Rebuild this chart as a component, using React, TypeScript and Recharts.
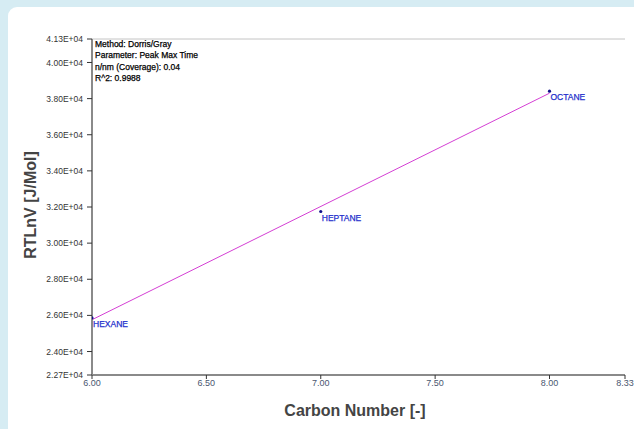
import React from 'react';
import {
  ComposedChart,
  Line,
  Scatter,
  XAxis,
  YAxis,
  ReferenceLine,
  Customized,
} from 'recharts';

// Colour palette
const COLORS = {
  page: '#d6ecf3',
  fit: '#d43fd4',
  point: '#10108a',
  pointLabel: '#2430cc',
  axis: '#8a8a8a',
  tick: '#333',
  xTick: '#4a5670',
  title: '#444',
};

// Measured compounds
const compounds = ['HEXANE', 'HEPTANE', 'OCTANE'];
const carbonNumbers = [6, 7, 8];
const rtlnv = [25860, 31750, 38410];

// Regression line end points
const fitX = [6, 8];
const fitY = [25760, 38300];

// Axes
const xTicks = [6, 6.5, 7, 7.5, 8, 8.33];
const yTicks = [22700, 24000, 26000, 28000, 30000, 32000, 34000, 36000, 38000, 40000, 41300];

const notes = [
  'Method: Dorris/Gray',
  'Parameter: Peak Max Time',
  'n/nm (Coverage): 0.04',
  'R^2: 0.9988',
];

const points = compounds.map((name, i) => ({ name, x: carbonNumbers[i], y: rtlnv[i] }));
const fitData = fitX.map((x, i) => ({ x, fit: fitY[i] }));

const fmtY = (v: number) => (v / 10000).toFixed(2) + 'E+04';

const PointShape = (props: any) => {
  const { cx, cy, payload } = props;
  return (
    <g>
      <circle cx={cx} cy={cy} r={1.6} fill={COLORS.point} />
      <text
        x={cx + 1}
        y={cy + 9}
        fontSize={8.5}
        fill={COLORS.pointLabel}
        stroke={COLORS.pointLabel}
        strokeWidth={0.25}
        fontFamily="Liberation Sans, Arial, sans-serif"
      >
        {payload.name}
      </text>
    </g>
  );
};

const Notes = () => (
  <g fontFamily="Liberation Sans, Arial, sans-serif" fontSize={8.5} fill="#000" stroke="#000" strokeWidth={0.25}>
    {notes.map((n, i) => (
      <text key={n} x={95} y={47 + i * 11.3}>{n}</text>
    ))}
  </g>
);

export default function App() {
  return (
    <div style={{ position: 'fixed', left: 0, top: 0, width: 634, height: 429, background: COLORS.page, overflow: 'hidden' }}>
      <div style={{ position: 'absolute', left: 8, top: 7, width: 640, height: 440, background: 'white', borderTopLeftRadius: 9 }} />
      <div style={{ position: 'absolute', left: 0, top: 0 }}>
        <ComposedChart
          width={634}
          height={429}
          margin={{ top: 39, right: 9, bottom: 34, left: 0 }}
          style={{ fontFamily: 'Liberation Sans, Arial, sans-serif' }}
        >
          <XAxis
            type="number"
            dataKey="x"
            domain={[6, 8.33]}
            ticks={xTicks}
            tickFormatter={(v: number) => v.toFixed(2)}
            tick={{ fontSize: 9, fill: COLORS.xTick }}
            tickSize={4}
            tickMargin={1}
            height={20}
            tickLine={{ stroke: COLORS.tick }}
            axisLine={{ stroke: COLORS.axis, strokeWidth: 2 }}
            allowDataOverflow
            label={{
              content: () => (
                <text x={355} y={416} textAnchor="middle" fontSize={16} fontWeight="bold" fill={COLORS.title}>
                  Carbon Number [-]
                </text>
              ),
            }}
          />
          <YAxis
            type="number"
            domain={[22700, 41300]}
            ticks={yTicks}
            tickFormatter={fmtY}
            tick={{ fontSize: 8.5, fill: COLORS.tick }}
            tickSize={5}
            tickMargin={4}
            tickLine={{ stroke: COLORS.tick }}
            axisLine={{ stroke: COLORS.axis, strokeWidth: 2 }}
            width={92}
            allowDataOverflow
            label={{
              content: () => (
                <text
                  x={36}
                  y={205}
                  transform="rotate(-90 36 205)"
                  textAnchor="middle"
                  fontSize={16}
                  fontWeight="bold"
                  fill={COLORS.title}
                >
                  RTLnV [J/Mol]
                </text>
              ),
            }}
          />
          <ReferenceLine y={41300} stroke="#c4c4c4" strokeWidth={1} ifOverflow="extendDomain" />
          <Line
            data={fitData}
            dataKey="fit"
            type="linear"
            stroke={COLORS.fit}
            strokeWidth={1}
            dot={false}
            activeDot={false}
            isAnimationActive={false}
          />
          <Scatter data={points} dataKey="y" shape={PointShape} isAnimationActive={false} />
          <Customized component={Notes} />
        </ComposedChart>
      </div>
    </div>
  );
}
